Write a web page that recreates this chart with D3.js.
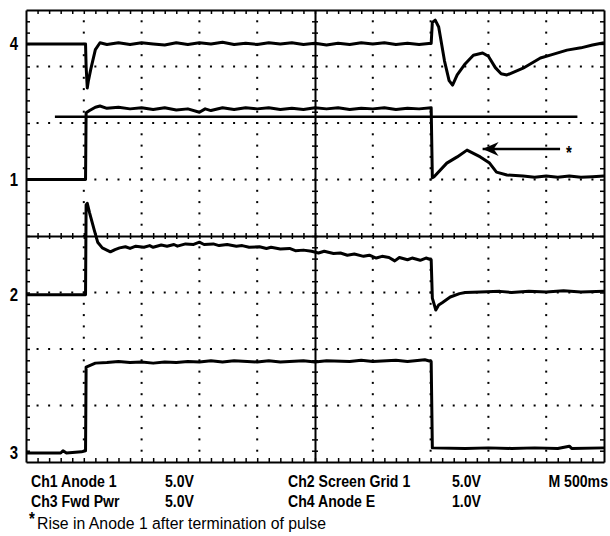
<!DOCTYPE html>
<html>
<head>
<meta charset="utf-8">
<script src="https://cdn.jsdelivr.net/npm/d3@7"></script>
<style>
  body { margin: 0; background: #fff; }
  text { font-family: "Liberation Sans", Arial, sans-serif; }
</style>
</head>
<body>
<div id="graphic"></div>
<script>
// traces, [time (s), divisions from centre]
const ch4 = [[0,3.40],[0.515,3.40],[0.52,3.0],[0.53,2.62],[0.54,2.75],[0.56,2.95],[0.60,3.30],[0.64,3.42],
  [0.7,3.39],[0.8,3.42],[0.9,3.39],[1.0,3.42],[1.1,3.40],[1.2,3.38],[1.3,3.42],[1.4,3.39],[1.5,3.42],[1.6,3.40],[1.7,3.43],[1.8,3.39],[1.9,3.41],[2.0,3.39],[2.1,3.42],[2.2,3.40],[2.3,3.42],[2.4,3.39],[2.5,3.41],[2.6,3.38],[2.7,3.41],[2.8,3.39],[2.9,3.42],[3.0,3.40],[3.1,3.42],[3.2,3.39],[3.3,3.41],[3.4,3.39],[3.505,3.41],
  [3.515,3.78],[3.54,3.82],[3.57,3.70],[3.62,3.10],[3.66,2.75],[3.69,2.67],[3.73,2.85],[3.80,3.05],[3.87,3.20],[3.95,3.24],[4.00,3.18],[4.06,2.98],[4.11,2.87],[4.16,2.85],[4.30,2.97],[4.45,3.15],[4.55,3.21],[4.68,3.29],[4.8,3.33],[4.9,3.38],[5.0,3.42]];
const ch1 = [[0,1.0],[0.515,1.0],[0.52,2.18],[0.55,2.22],[0.6,2.28],[0.64,2.30],[0.7,2.26],[0.8,2.28],[0.9,2.25],[1.0,2.27],[1.1,2.24],[1.2,2.27],[1.3,2.23],[1.4,2.25],[1.5,2.19],[1.55,2.25],[1.6,2.22],[1.7,2.27],[1.8,2.24],[1.9,2.27],[2.0,2.25],[2.1,2.27],[2.2,2.24],[2.3,2.26],[2.4,2.24],[2.5,2.27],[2.6,2.25],[2.7,2.27],[2.8,2.24],[2.9,2.26],[3.0,2.25],[3.1,2.27],[3.2,2.24],[3.3,2.26],[3.4,2.25],[3.505,2.27],
  [3.515,1.03],[3.53,1.05],[3.64,1.29],[3.73,1.40],[3.815,1.52],[3.93,1.40],[4.01,1.29],[4.07,1.13],[4.16,1.08],[4.3,1.06],[4.4,1.04],[4.5,1.06],[4.6,1.04],[4.7,1.06],[4.8,1.04],[4.9,1.05],[5.0,1.06]];
const ch2 = [[0,-1.04],[0.515,-1.04],[0.52,0.55],[0.53,0.58],[0.55,0.41],[0.59,0.11],[0.62,-0.11],[0.66,-0.21],[0.73,-0.28],[0.77,-0.24],
  [0.81,-0.21],[0.86,-0.19],[0.9,-0.22],[0.95,-0.18],[1.02,-0.20],[1.07,-0.17],[1.1,-0.20],[1.17,-0.16],[1.22,-0.18],[1.28,-0.15],[1.31,-0.18],[1.38,-0.14],[1.45,-0.15],[1.5,-0.11],[1.54,-0.15],[1.62,-0.14],[1.67,-0.17],[1.74,-0.15],[1.82,-0.18],[1.87,-0.17],[1.93,-0.20],[2.02,-0.19],[2.08,-0.22],[2.12,-0.20],[2.2,-0.23],[2.28,-0.22],[2.33,-0.26],[2.4,-0.25],[2.47,-0.27],[2.53,-0.30],[2.58,-0.27],[2.66,-0.31],[2.72,-0.30],[2.78,-0.34],[2.84,-0.32],[2.92,-0.36],[2.97,-0.34],[3.03,-0.39],[3.08,-0.36],[3.14,-0.38],[3.19,-0.44],[3.23,-0.38],[3.3,-0.42],[3.34,-0.39],[3.41,-0.43],[3.46,-0.39],[3.505,-0.42],
  [3.515,-1.10],[3.545,-1.31],[3.57,-1.22],[3.6,-1.18],[3.67,-1.08],[3.75,-1.02],[3.8,-1.0],[3.93,-0.99],[4.1,-0.98],[4.2,-1.0],[4.35,-0.98],[4.5,-0.99],[4.65,-0.97],[4.8,-0.99],[5.0,-0.98]];
const ch3 = [[0,-3.84],[0.3,-3.84],[0.32,-3.80],[0.35,-3.84],[0.48,-3.82],[0.515,-3.80],[0.52,-2.32],[0.6,-2.25],[0.7,-2.24],[0.8,-2.22],[0.9,-2.24],[1.0,-2.23],[1.1,-2.25],[1.2,-2.23],[1.3,-2.24],[1.4,-2.22],[1.5,-2.23],[1.6,-2.21],[1.7,-2.23],[1.8,-2.21],[2.0,-2.23],[2.1,-2.21],[2.2,-2.23],[2.4,-2.21],[2.5,-2.23],[2.6,-2.21],[2.8,-2.22],[2.9,-2.20],[3.0,-2.22],[3.2,-2.20],[3.3,-2.22],[3.45,-2.19],[3.505,-2.22],
  [3.515,-3.75],[3.8,-3.76],[4.0,-3.75],[4.2,-3.76],[4.4,-3.75],[4.6,-3.76],[4.7,-3.72],[4.72,-3.76],[5.0,-3.75]];
const refLine = [[0.25,2.11],[4.77,2.11]];
const arrowPts = [[4.62,1.54],[3.95,1.54]];

const markerLabels = ["4", "1", "2", "3"];
const markerLevels = [3.40, 1.0, -1.04, -3.84];

const legendRow1 = ["Ch1 Anode 1", "5.0V", "Ch2 Screen Grid 1", "5.0V", "M 500ms"];
const legendRow2 = ["Ch3 Fwd Pwr", "5.0V", "Ch4 Anode E", "1.0V"];
const footnote = "Rise in Anode 1 after termination of pulse";

const W = 610, H = 536;
const margin = { top: 10, right: 6, bottom: 74, left: 26 };

const svg = d3.select("#graphic").append("svg")
  .attr("width", W).attr("height", H)
  .style("background", "#fff");

const x = d3.scaleLinear().domain([0, 5]).range([margin.left, W - margin.right]);
const y = d3.scaleLinear().domain([-4, 4]).range([H - margin.bottom, margin.top]);

const minorT = d3.range(1, 50).map(i => i / 10);
const minorV = d3.range(-19, 20).map(i => i / 5);

// dotted graticule
const grid = svg.append("g");
[0.5, 1, 1.5, 2, 3, 3.5, 4, 4.5].forEach(t => {
  grid.selectAll(null).data(minorV).join("rect")
    .attr("x", x(t) - 1).attr("y", d => y(d) - 1)
    .attr("width", 2).attr("height", 2).attr("fill", "#000");
});
[-3, -2, -1, 1, 2, 3].forEach(v => {
  grid.selectAll(null).data(minorT).join("rect")
    .attr("x", d => x(d) - 1).attr("y", y(v) - 1)
    .attr("width", 2).attr("height", 2).attr("fill", "#000");
});

// border + centre axes with minor ticks
function styleAxis(g) {
  g.selectAll("path").attr("stroke", "#000").attr("stroke-width", 2);
  g.selectAll("line").attr("stroke", "#000").attr("stroke-width", 1.5);
  g.selectAll("text").remove();
}
svg.append("g").attr("transform", `translate(0,${y(4)})`)
  .call(d3.axisBottom(x).tickValues(minorT).tickSize(4).tickSizeOuter(0)).call(styleAxis);
svg.append("g").attr("transform", `translate(0,${y(-4)})`)
  .call(d3.axisTop(x).tickValues(minorT).tickSize(4).tickSizeOuter(0)).call(styleAxis);
svg.append("g").attr("transform", `translate(${x(0)},0)`)
  .call(d3.axisRight(y).tickValues(minorV).tickSize(4).tickSizeOuter(0)).call(styleAxis);
svg.append("g").attr("transform", `translate(${x(5)},0)`)
  .call(d3.axisLeft(y).tickValues(minorV).tickSize(4).tickSizeOuter(0)).call(styleAxis);

const cx = svg.append("g").attr("transform", `translate(0,${y(0)})`)
  .call(d3.axisBottom(x).tickValues(minorT).tickSize(3).tickSizeOuter(0)).call(styleAxis);
cx.selectAll(".tick line").attr("y1", -3);
const cy = svg.append("g").attr("transform", `translate(${x(2.5)},0)`)
  .call(d3.axisRight(y).tickValues(minorV).tickSize(3).tickSizeOuter(0)).call(styleAxis);
cy.selectAll(".tick line").attr("x1", -3);

// traces
const line = d3.line().x(d => x(d[0])).y(d => y(d[1]));
[ch4, ch1, ch2, ch3].forEach(tr => {
  svg.append("path").datum(tr).attr("d", line)
    .attr("fill", "none").attr("stroke", "#000")
    .attr("stroke-width", 3).attr("stroke-linejoin", "round");
});
svg.append("path").datum(refLine).attr("d", line)
  .attr("fill", "none").attr("stroke", "#000").attr("stroke-width", 2.5);

// annotation arrow
svg.append("path").datum(arrowPts).attr("d", line)
  .attr("stroke", "#000").attr("stroke-width", 2.5);
const tip = [x(arrowPts[1][0]), y(arrowPts[1][1])];
svg.append("path")
  .attr("d", `M${tip[0]},${tip[1]} L${tip[0] + 16},${tip[1] - 7} L${tip[0] + 11},${tip[1]} L${tip[0] + 16},${tip[1] + 7} Z`)
  .attr("fill", "#000");

// narrow text helper (Arial Narrow look)
function narrowText(px, py, str, size, weight, anchor, sx) {
  return svg.append("g").attr("transform", `translate(${px},${py}) scale(${sx || 0.83},1)`)
    .append("text").attr("font-size", size).attr("font-weight", weight)
    .attr("text-anchor", anchor || "start").text(str);
}

narrowText(x(arrowPts[0][0]) + 6, y(arrowPts[0][1]) + 10, "*", 18, "bold");

// channel markers
markerLabels.forEach((lab, i) => {
  narrowText(14, y(markerLevels[i]) + 6, lab, 18, "bold", "middle");
});

// readout
const row1X = [31, 165, 288, 452, 608];
const row2X = [31, 165, 288, 452];
legendRow1.forEach((s, i) => narrowText(row1X[i], 487, s, 17, "bold", i === 4 ? "end" : "start"));
legendRow2.forEach((s, i) => narrowText(row2X[i], 507, s, 17, "bold"));

narrowText(29, 525, "*", 18, "bold");
narrowText(37, 529, footnote, 17, "normal", "start", 0.93);
</script>
</body>
</html>
